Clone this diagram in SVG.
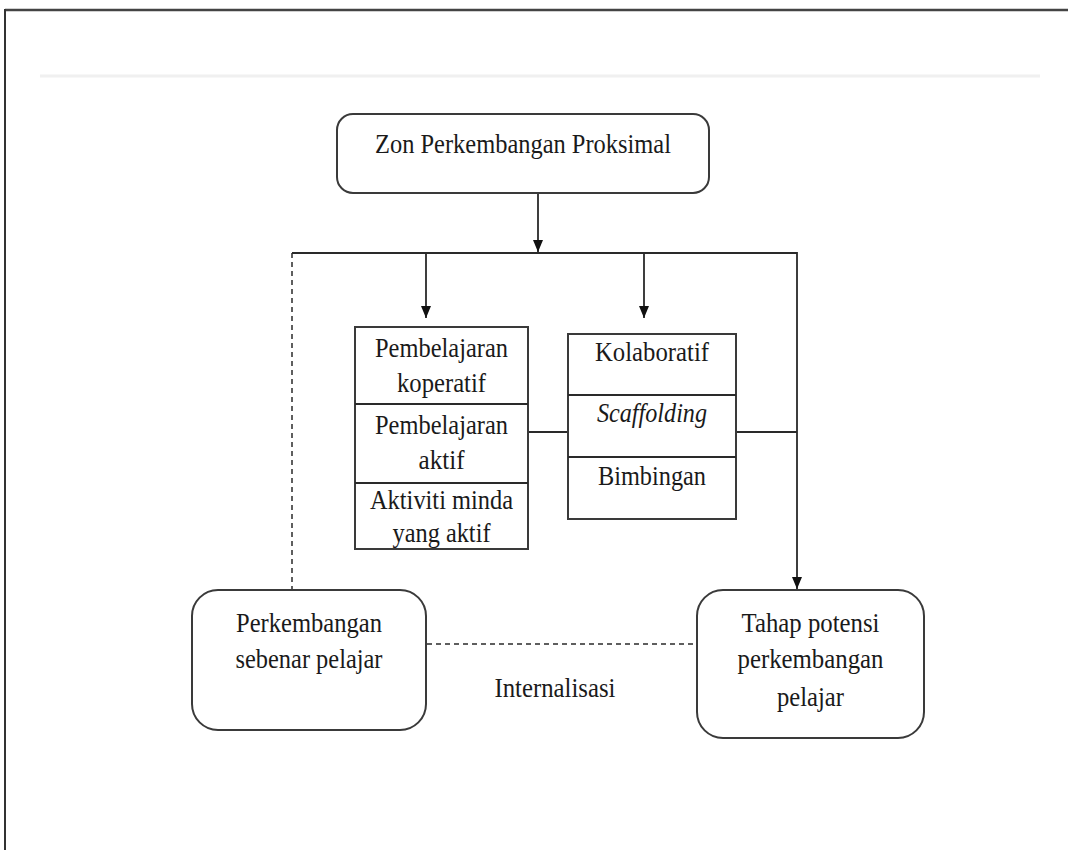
<svg xmlns="http://www.w3.org/2000/svg" width="1068" height="850" viewBox="0 0 1068 850">
<style>
text{font-family:"Liberation Serif","Times New Roman",serif;font-size:27px;fill:#1a1a1a;text-anchor:middle}
.it{font-style:italic}
.box{fill:#fff;stroke:#3a3a3a;stroke-width:2}
.line{fill:none;stroke:#2a2a2a;stroke-width:1.8}
.dash{fill:none;stroke:#2a2a2a;stroke-width:1.5;stroke-dasharray:5 4}
</style>
<defs>
<marker id="ah" viewBox="0 0 12 10" refX="12" refY="5" markerWidth="12" markerHeight="10" markerUnits="userSpaceOnUse" orient="auto">
<path d="M0,0 L12,5 L0,10 z" fill="#111"/>
</marker>
</defs>
<rect width="1068" height="850" fill="#fff"/>
<g id="frame">
<line x1="5" y1="10" x2="1068" y2="10" stroke="#444" stroke-width="2.5"/>
<line x1="5" y1="9" x2="5" y2="850" stroke="#333" stroke-width="2"/>
<line x1="40" y1="76" x2="1040" y2="76" stroke="#f0f0f0" stroke-width="3"/>
</g>
<g id="connectors">
<line class="line" x1="538" y1="194" x2="538" y2="252" marker-end="url(#ah)"/>
<polyline class="line" points="292,253 797,253 797,589" marker-end="url(#ah)"/>
<line class="line" x1="426" y1="253" x2="426" y2="318" marker-end="url(#ah)"/>
<line class="line" x1="644" y1="253" x2="644" y2="318" marker-end="url(#ah)"/>
<line class="line" x1="528" y1="432" x2="568" y2="432"/>
<line class="line" x1="736" y1="432" x2="797" y2="432"/>
<line class="dash" x1="292" y1="253" x2="292" y2="590"/>
<line class="dash" x1="427" y1="644" x2="697" y2="644"/>
</g>
<g id="zon">
<rect class="box" x="337" y="114" width="372" height="79" rx="16"/>
<text x="523" y="153" textLength="296" lengthAdjust="spacingAndGlyphs">Zon Perkembangan Proksimal</text>
</g>
<g id="stack-left">
<rect class="box" x="355" y="327" width="173" height="222"/>
<line class="line" x1="355" y1="404" x2="528" y2="404"/>
<line class="line" x1="355" y1="483" x2="528" y2="483"/>
<text x="441.5" y="357" textLength="133" lengthAdjust="spacingAndGlyphs">Pembelajaran</text>
<text x="441.5" y="392" textLength="89" lengthAdjust="spacingAndGlyphs">koperatif</text>
<text x="441.5" y="434" textLength="133" lengthAdjust="spacingAndGlyphs">Pembelajaran</text>
<text x="441.5" y="469" textLength="46" lengthAdjust="spacingAndGlyphs">aktif</text>
<text x="441.5" y="509" textLength="143" lengthAdjust="spacingAndGlyphs">Aktiviti minda</text>
<text x="441.5" y="542" textLength="98" lengthAdjust="spacingAndGlyphs">yang aktif</text>
</g>
<g id="stack-right">
<rect class="box" x="568" y="334" width="168" height="185"/>
<line class="line" x1="568" y1="395" x2="736" y2="395"/>
<line class="line" x1="568" y1="457" x2="736" y2="457"/>
<text x="652" y="361" textLength="114" lengthAdjust="spacingAndGlyphs">Kolaboratif</text>
<text class="it" x="652" y="422" textLength="110" lengthAdjust="spacingAndGlyphs">Scaffolding</text>
<text x="652" y="485" textLength="108" lengthAdjust="spacingAndGlyphs">Bimbingan</text>
</g>
<g id="sebenar">
<rect class="box" x="192" y="590" width="234" height="140" rx="26"/>
<text x="309" y="632" textLength="146" lengthAdjust="spacingAndGlyphs">Perkembangan</text>
<text x="309" y="668" textLength="147" lengthAdjust="spacingAndGlyphs">sebenar pelajar</text>
</g>
<g id="potensi">
<rect class="box" x="697" y="590" width="227" height="148" rx="26"/>
<text x="810.5" y="632" textLength="138" lengthAdjust="spacingAndGlyphs">Tahap potensi</text>
<text x="810.5" y="668" textLength="146" lengthAdjust="spacingAndGlyphs">perkembangan</text>
<text x="810.5" y="706" textLength="67" lengthAdjust="spacingAndGlyphs">pelajar</text>
</g>
<g id="label-internalisasi">
<text x="555" y="697" textLength="121" lengthAdjust="spacingAndGlyphs">Internalisasi</text>
</g>
</svg>
